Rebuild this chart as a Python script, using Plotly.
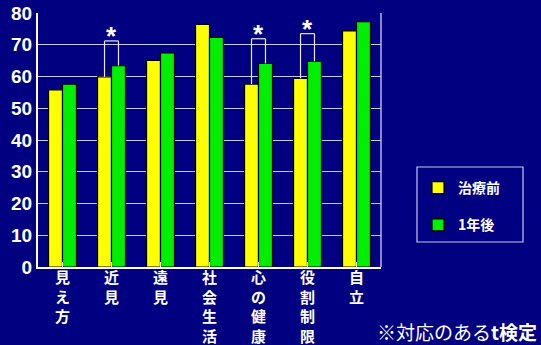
import plotly.graph_objects as go

# Survey domains (vertical Japanese labels) and scores
categories = ["見え方", "近見", "遠見", "社会生活", "心の健康", "役割制限", "自立"]
before = [55.8, 59.9, 65.1, 76.4, 57.6, 59.4, 74.4]   # 治療前
after = [57.6, 63.4, 67.4, 72.3, 64.1, 64.8, 77.3]    # 1年後
series_names = ["治療前", "1年後"]
y_ticks = [0, 10, 20, 30, 40, 50, 60, 70, 80]

# Paired t-test significant domains and the height of their brackets
sig_index = [1, 4, 5]
sig_bracket_top = [71.2, 71.9, 73.5]

BG = "#000080"
FONT_JP = "Noto Sans CJK JP"

# Plot-area geometry in pixels
L, R, T, B = 38, 381, 13, 267
W, H = R - L, B - T


def px_x(x):
    return (x - L) / W


def px_y(y):
    return (B - y) / H


x_idx = list(range(len(categories)))
tick_text = ["<br>".join(list(c)) for c in categories]

fig = go.Figure()
fig.add_trace(go.Bar(
    x=x_idx, y=before, name=series_names[0],
    marker=dict(color="#FFFF00", line=dict(color="#000000", width=1.2)),
    legendgroup="a",
))
fig.add_trace(go.Bar(
    x=x_idx, y=after, name=series_names[1],
    marker=dict(color="#00EE00", line=dict(color="#000000", width=1.2)),
    legendgroup="b",
))

# Bars sit at +/- half a bar width from the category centre
bargap = 0.43
half = (1 - bargap) / 4
shapes = []
annotations = []
for i, top in zip(sig_index, sig_bracket_top):
    xl, xr = i - half, i + half
    for xx, base in ((xl, before[i]), (xr, after[i])):
        shapes.append(dict(type="line", xref="x", yref="y", x0=xx, x1=xx,
                           y0=base, y1=top, line=dict(color="#E8E8FF", width=1.2)))
    shapes.append(dict(type="line", xref="x", yref="y", x0=xl, x1=xr,
                       y0=top, y1=top, line=dict(color="#E8E8FF", width=1.2)))
    annotations.append(dict(x=i, y=top, xref="x", yref="y", text="<b>*</b>",
                            showarrow=False, yanchor="bottom", yshift=-12,
                            font=dict(color="white", size=26, family="Liberation Sans")))

# Right frame line of the plot area
shapes.append(dict(type="line", xref="paper", yref="paper", x0=1, x1=1, y0=0, y1=1,
                   line=dict(color="#B8B8D8", width=1.5)))
# Legend frame
shapes.append(dict(type="rect", xref="paper", yref="paper",
                   x0=px_x(417), x1=px_x(523), y0=px_y(242), y1=px_y(167),
                   line=dict(color="#C8C8E8", width=1.2), fillcolor="rgba(0,0,0,0)"))

annotations.append(dict(
    x=px_x(539), y=px_y(331), xref="paper", yref="paper",
    xanchor="right", yanchor="middle",
    text="※対応のある<b>t検定</b>", showarrow=False,
    font=dict(color="white", size=19, family=FONT_JP),
))

fig.update_layout(
    width=541, height=345,
    margin=dict(l=L, r=541 - R, t=T, b=345 - B, autoexpand=False),
    paper_bgcolor=BG, plot_bgcolor=BG,
    barmode="group", bargap=bargap, bargroupgap=0,
    showlegend=True,
    legend=dict(
        x=px_x(418), y=px_y(172), xanchor="left", yanchor="top",
        bgcolor="rgba(0,0,0,0)", borderwidth=0,
        font=dict(color="white", size=14, family=FONT_JP, weight="bold"),
        traceorder="grouped", tracegroupgap=16,
    ),
    shapes=shapes,
    annotations=annotations,
    xaxis=dict(
        tickmode="array", tickvals=x_idx, ticktext=tick_text,
        range=[-0.5, len(categories) - 0.5], automargin=False,
        tickson="boundaries", ticks="inside", ticklen=5, tickcolor="white", tickwidth=1,
        ticklabelstandoff=-4,
        showline=True, linecolor="white", linewidth=2,
        showgrid=False, zeroline=False,
        tickfont=dict(color="white", size=15, family=FONT_JP, weight="bold"),
    ),
    yaxis=dict(
        range=[0, 80], tickvals=y_ticks, automargin=False,
        showline=True, linecolor="white", linewidth=2,
        showgrid=True, gridcolor="#C8C8E8", gridwidth=1,
        zeroline=False, ticks="",
        tickfont=dict(color="white", size=19, family="Liberation Sans", weight="bold"),
    ),
)

fig.write_html("out.html")
